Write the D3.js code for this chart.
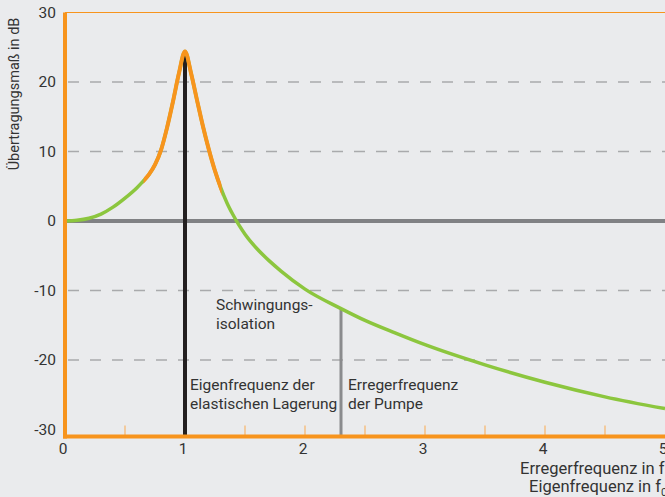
<!DOCTYPE html>
<html>
<head>
<meta charset="utf-8">
<script src="https://cdn.jsdelivr.net/npm/d3@7"></script>
<style>
  body { margin: 0; background: #eaebed; }
  svg { display: block; font-family: Roboto, "Open Sans", sans-serif; }
</style>
</head>
<body>
<div id="chart"></div>
<script>
// frequency ratio / transfer in dB
var ratio = [0, 0.1, 0.2, 0.3, 0.4, 0.5, 0.6, 0.65, 0.7, 0.75, 0.8, 0.85, 0.9, 0.95, 1.0,
             1.05, 1.1, 1.15, 1.2, 1.25, 1.3, 1.35, 1.4, 1.45, 1.5, 1.6, 1.7, 1.8, 2.0,
             2.3, 2.5, 2.75, 3.0, 3.5, 4.0, 4.5, 5.0];
var transferDb = [0, 0.1, 0.4, 1.0, 2.0, 3.3, 4.8, 5.7, 6.7, 8.1, 10.2, 13.4, 17.2, 21.3, 24.4,
                  21.3, 17.4, 13.6, 10.2, 7.2, 4.7, 2.6, 0.9, -0.6, -1.9, -4.0, -5.7, -7.2, -9.8,
                  -12.6, -14.3, -16.1, -17.8, -20.7, -23.2, -25.3, -27.0];
var resonanceRange = [0.655, 1.305];   // orange part of the curve
var yTicks = [30, 20, 10, 0, -10, -20, -30];
var xTicks = [0, 1, 2, 3, 4, 5];
var xMinorTicks = [0.5, 1, 1.5, 2, 2.5, 3, 3.5, 4, 4.5];
var gridLines = [20, 10, -10, -20];
var eigenfreq = 1.0;
var pumpFreq = 2.3;

var width = 665, height = 497;
var margin = {top: 12.5, left: 65};

var svg = d3.select("#chart").append("svg")
    .attr("width", width)
    .attr("height", height);

var x = d3.scaleLinear().domain([0, 5]).range([margin.left, margin.left + 5 * 120]);
var y = d3.scaleLinear().domain([30, -31]).range([margin.top, margin.top + 61 * 6.95]);

var data = ratio.map(function(r, i) { return {r: r, db: transferDb[i]}; });

var line = d3.line()
    .curve(d3.curveMonotoneX)
    .x(function(d) { return x(d.r); })
    .y(function(d) { return y(d.db); });

// dashed gridlines
svg.selectAll(".grid")
  .data(gridLines)
  .enter().append("line")
    .attr("class", "grid")
    .attr("x1", margin.left + 3)
    .attr("x2", width)
    .attr("y1", function(d) { return y(d); })
    .attr("y2", function(d) { return y(d); })
    .attr("stroke", "#a9aaac")
    .attr("stroke-width", 1.5)
    .attr("stroke-dasharray", "11,11");

// top border
svg.append("line")
    .attr("x1", margin.left).attr("x2", width)
    .attr("y1", y(30)).attr("y2", y(30))
    .attr("stroke", "#f7941d")
    .attr("stroke-width", 1.2);

// zero line
svg.append("line")
    .attr("x1", margin.left).attr("x2", width)
    .attr("y1", y(0)).attr("y2", y(0))
    .attr("stroke", "#808184")
    .attr("stroke-width", 4);

// x minor ticks
svg.selectAll(".mtick")
  .data(xMinorTicks)
  .enter().append("line")
    .attr("x1", function(d) { return x(d); })
    .attr("x2", function(d) { return x(d); })
    .attr("y1", y(-31) - 11)
    .attr("y2", y(-31))
    .attr("stroke", "#f7b56a")
    .attr("stroke-width", 1.2);

// vertical markers
svg.append("line")
    .attr("x1", x(eigenfreq)).attr("x2", x(eigenfreq))
    .attr("y1", y(24.0)).attr("y2", y(-31))
    .attr("stroke", "#231f20")
    .attr("stroke-width", 4);

svg.append("line")
    .attr("x1", x(pumpFreq)).attr("x2", x(pumpFreq))
    .attr("y1", y(-12.6)).attr("y2", y(-31))
    .attr("stroke", "#8a8b8d")
    .attr("stroke-width", 3);

// curve
svg.append("clipPath").attr("id", "plotclip")
  .append("rect").attr("x", margin.left).attr("y", 0).attr("width", width - margin.left).attr("height", height);

svg.append("path")
    .datum(data)
    .attr("clip-path", "url(#plotclip)")
    .attr("fill", "none")
    .attr("stroke", "#8cc63e")
    .attr("stroke-width", 3.5)
    .attr("d", line);

// orange resonance segment: same curve, clipped to the range
svg.append("clipPath").attr("id", "resclip")
  .append("rect")
    .attr("x", x(resonanceRange[0])).attr("y", 0)
    .attr("width", x(resonanceRange[1]) - x(resonanceRange[0]))
    .attr("height", height);

svg.append("path")
    .datum(data)
    .attr("clip-path", "url(#resclip)")
    .attr("fill", "none")
    .attr("stroke", "#f7941d")
    .attr("stroke-width", 4)
    .attr("d", line);

// axes
svg.append("line")
    .attr("x1", margin.left).attr("x2", margin.left)
    .attr("y1", y(30)).attr("y2", y(-31) + 2)
    .attr("stroke", "#f7941d")
    .attr("stroke-width", 4);

svg.append("line")
    .attr("x1", margin.left - 2).attr("x2", width)
    .attr("y1", y(-31)).attr("y2", y(-31))
    .attr("stroke", "#f7941d")
    .attr("stroke-width", 4);

// tick labels
svg.selectAll(".ylab")
  .data(yTicks)
  .enter().append("text")
    .attr("x", 56)
    .attr("y", function(d) { return y(d); })
    .attr("dy", "0.35em")
    .attr("text-anchor", "end")
    .attr("font-size", 15.5)
    .attr("fill", "#333")
    .text(function(d) { return d; });

svg.selectAll(".xlab")
  .data(xTicks)
  .enter().append("text")
    .attr("x", function(d) { return x(d) - 2; })
    .attr("y", 454)
    .attr("text-anchor", "middle")
    .attr("font-size", 15.5)
    .attr("fill", "#333")
    .text(function(d) { return d; });

// axis titles
svg.append("text")
    .attr("transform", "translate(19,94) rotate(-90)")
    .attr("text-anchor", "middle")
    .attr("font-size", 14.5)
    .attr("fill", "#333")
    .text("Übertragungsmaß in dB");

svg.append("text")
    .attr("x", 520).attr("y", 474)
    .attr("font-size", 16.5)
    .attr("fill", "#333")
    .text("Erregerfrequenz in f");

var t2 = svg.append("text")
    .attr("x", 529).attr("y", 492)
    .attr("font-size", 16.5)
    .attr("fill", "#333");
t2.append("tspan").text("Eigenfrequenz in f");
t2.append("tspan").attr("dy", 4).attr("font-size", 11).text("0");

// annotations
function addLabel(lines, px, py) {
  svg.append("text")
      .attr("x", px).attr("y", py)
      .attr("font-size", 15.5)
      .attr("fill", "#333")
    .selectAll("tspan")
    .data(lines)
    .enter().append("tspan")
      .attr("x", px)
      .attr("dy", function(d, i) { return i ? 18.5 : 0; })
      .text(function(d) { return d; });
}
addLabel(["Schwingungs-", "isolation"], 216, 310);
addLabel(["Eigenfrequenz der", "elastischen Lagerung"], 190, 390);
addLabel(["Erregerfrequenz", "der Pumpe"], 348, 390);
</script>
</body>
</html>
